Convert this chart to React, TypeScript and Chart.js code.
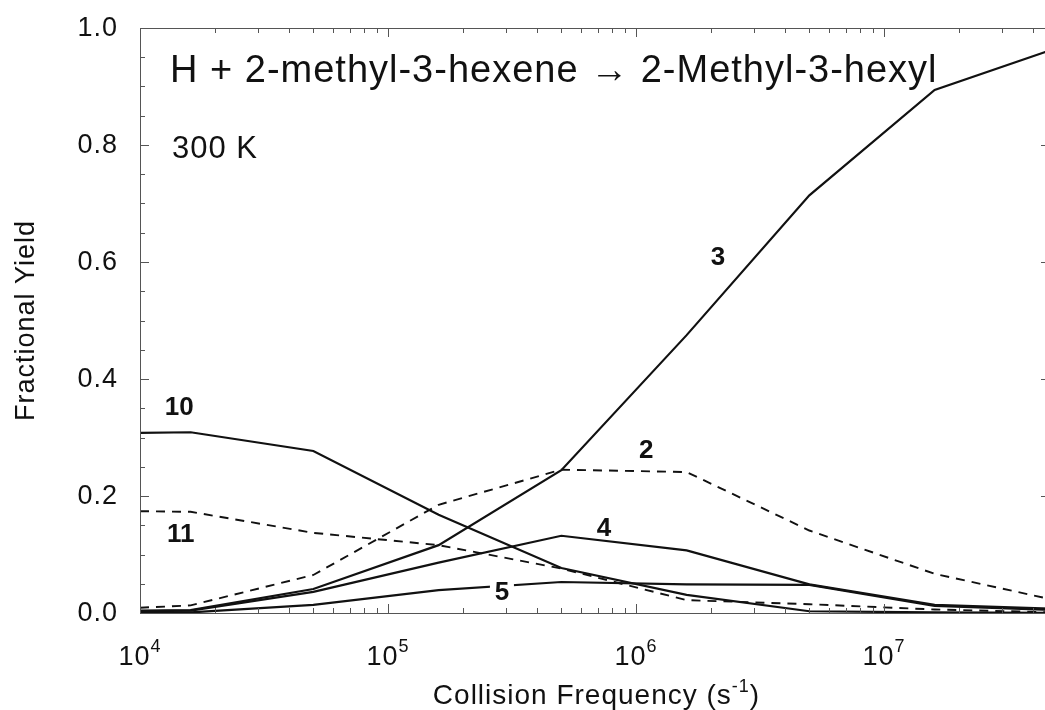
import React, { useEffect, useRef } from "react";
import { Chart, registerables } from "chart.js";

Chart.register(...registerables);

// Collision frequencies (s^-1) at which yields were computed
const FREQUENCIES = [1e4, 1.6e4, 5e4, 1.6e5, 5e5, 1.6e6, 5e6, 1.6e7, 5e7];

// Fractional yields per product channel
const YIELD_3 = [0.004, 0.005, 0.041, 0.116, 0.244, 0.475, 0.714, 0.894, 0.966];
const YIELD_10 = [0.308, 0.309, 0.277, 0.168, 0.077, 0.031, 0.003, 0.001, 0.0];
const YIELD_2 = [0.009, 0.013, 0.065, 0.185, 0.245, 0.241, 0.141, 0.067, 0.021];
const YIELD_11 = [0.174, 0.173, 0.137, 0.116, 0.076, 0.022, 0.015, 0.006, 0.001];
const YIELD_4 = [0.003, 0.004, 0.036, 0.086, 0.132, 0.107, 0.049, 0.014, 0.007];
const YIELD_5 = [0.001, 0.001, 0.014, 0.039, 0.053, 0.049, 0.048, 0.012, 0.005];

// Axis ranges and ticks
const X_MIN = 1e4;
const X_MAX = 4.67e7;
const Y_MIN = 0;
const Y_MAX = 1;
const Y_TICK_LABELS = ["0.0", "0.2", "0.4", "0.6", "0.8", "1.0"];
const X_DECADES = [4, 5, 6, 7];

// Text
const TITLE = "H + 2-methyl-3-hexene \u2192 2-Methyl-3-hexyl";
const SUBTITLE = "300 K";
const Y_TITLE = "Fractional Yield";
const X_TITLE = "Collision Frequency (s";
const X_TITLE_SUP = "-1";

// Curve labels placed at data coordinates
const CURVE_LABELS = [
  { text: "3", x: 2.14e6, y: 0.609, knockout: false },
  { text: "10", x: 1.44e4, y: 0.352, knockout: false },
  { text: "2", x: 1.1e6, y: 0.279, knockout: false },
  { text: "11", x: 1.46e4, y: 0.135, knockout: false },
  { text: "4", x: 7.43e5, y: 0.145, knockout: false },
  { text: "5", x: 2.88e5, y: 0.036, knockout: true },
];

const FONT = '"Liberation Sans", Arial, Helvetica, sans-serif';

function series(values: number[]) {
  return FREQUENCIES.map((f, i) => ({ x: f, y: values[i] }));
}

const decorPlugin = {
  id: "figureDecor",
  afterDatasetsDraw(chart: any) {
    const { ctx, chartArea: a, scales } = chart;
    const xs = scales.x;
    const ys = scales.y;
    ctx.save();

    // knockout boxes behind labels
    for (const l of CURVE_LABELS) {
      if (!l.knockout) continue;
      const px = xs.getPixelForValue(l.x);
      const py = ys.getPixelForValue(l.y);
      ctx.fillStyle = "#fff";
      ctx.fillRect(px - 12, py - 12, 24, 24);
    }

    // frame
    ctx.strokeStyle = "#555";
    ctx.lineWidth = 1;
    ctx.strokeRect(a.left + 0.5, a.top + 0.5, a.right - a.left, a.bottom - a.top);

    const line = (x1: number, y1: number, x2: number, y2: number) => {
      ctx.beginPath();
      ctx.moveTo(x1, y1);
      ctx.lineTo(x2, y2);
      ctx.stroke();
    };

    // y ticks (every 0.05, major each 0.2)
    for (let i = 0; i <= 20; i++) {
      const v = i * 0.05;
      const py = Math.round(ys.getPixelForValue(v)) + 0.5;
      const len = i % 4 === 0 ? 9 : 5;
      line(a.left, py, a.left + len, py);
      line(a.right, py, a.right - len, py);
    }

    // x ticks (log minor)
    for (const d of X_DECADES) {
      for (let m = 1; m <= 9; m++) {
        const v = m * Math.pow(10, d);
        if (v < X_MIN || v > X_MAX) continue;
        const px = Math.round(xs.getPixelForValue(v)) + 0.5;
        const len = m === 1 ? 9 : 5;
        line(px, a.bottom, px, a.bottom - len);
        line(px, a.top, px, a.top + len);
      }
    }

    ctx.fillStyle = "#111";

    // y tick labels
    ctx.font = `27px ${FONT}`;
    (ctx as any).letterSpacing = "1px";
    ctx.textAlign = "right";
    ctx.textBaseline = "middle";
    Y_TICK_LABELS.forEach((t) => {
      const py = ys.getPixelForValue(parseFloat(t));
      ctx.fillText(t, a.left - 22, py + 1);
    });

    // x tick labels 10^n
    ctx.textBaseline = "alphabetic";
    for (const d of X_DECADES) {
      const px = xs.getPixelForValue(Math.pow(10, d));
      ctx.font = `27px ${FONT}`;
      const wBase = ctx.measureText("10").width;
      ctx.font = `18px ${FONT}`;
      const wExp = ctx.measureText(String(d)).width;
      const start = px - (wBase + wExp) / 2;
      ctx.textAlign = "left";
      ctx.font = `27px ${FONT}`;
      ctx.fillText("10", start, a.bottom + 52);
      ctx.font = `18px ${FONT}`;
      ctx.fillText(String(d), start + wBase, a.bottom + 39);
    }

    // title and subtitle
    ctx.textAlign = "left";
    ctx.font = `38px ${FONT}`;
    (ctx as any).letterSpacing = "1px";
    ctx.fillText(TITLE, a.left + 30, a.top + 54);
    ctx.font = `31px ${FONT}`;
    ctx.fillText(SUBTITLE, a.left + 32, a.top + 130);

    // x title with superscript
    ctx.font = `28px ${FONT}`;
    const wMain = ctx.measureText(X_TITLE).width;
    ctx.font = `18px ${FONT}`;
    const wSup = ctx.measureText(X_TITLE_SUP).width;
    ctx.font = `28px ${FONT}`;
    const wClose = ctx.measureText(")").width;
    const total = wMain + wSup + wClose;
    const cx = (a.left + Math.min(a.right, 1045)) / 2 + 4;
    let sx = cx - total / 2;
    ctx.fillText(X_TITLE, sx, 704);
    ctx.font = `18px ${FONT}`;
    ctx.fillText(X_TITLE_SUP, sx + wMain, 692);
    ctx.font = `28px ${FONT}`;
    ctx.fillText(")", sx + wMain + wSup, 704);

    // y title rotated
    ctx.save();
    ctx.translate(34, (a.top + a.bottom) / 2);
    ctx.rotate(-Math.PI / 2);
    ctx.textAlign = "center";
    ctx.font = `27px ${FONT}`;
    ctx.fillText(Y_TITLE, 0, 0);
    ctx.restore();

    // curve labels
    (ctx as any).letterSpacing = "0px";
    ctx.font = `bold 26px ${FONT}`;
    ctx.textAlign = "center";
    ctx.textBaseline = "middle";
    for (const l of CURVE_LABELS) {
      const px = xs.getPixelForValue(l.x);
      const py = ys.getPixelForValue(l.y);
      ctx.fillText(l.text, px, py + 1);
    }

    ctx.restore();
  },
};

export default function App() {
  const ref = useRef<HTMLCanvasElement | null>(null);

  useEffect(() => {
    if (!ref.current) return;
    const solid = { borderColor: "#111", borderWidth: 2.2, pointRadius: 0, tension: 0, fill: false };
    const dashed = { ...solid, borderWidth: 1.9, borderDash: [9, 7] };
    const chart = new Chart(ref.current, {
      type: "line",
      data: {
        datasets: [
          { label: "3", data: series(YIELD_3), ...solid },
          { label: "10", data: series(YIELD_10), ...solid },
          { label: "2", data: series(YIELD_2), ...dashed },
          { label: "11", data: series(YIELD_11), ...dashed },
          { label: "4", data: series(YIELD_4), ...solid },
          { label: "5", data: series(YIELD_5), ...solid },
        ],
      },
      options: {
        responsive: false,
        animation: false,
        parsing: true,
        layout: { padding: { left: 140, top: 28, right: 2, bottom: 97 } },
        plugins: { legend: { display: false }, tooltip: { enabled: false } },
        scales: {
          x: { type: "logarithmic", min: X_MIN, max: X_MAX, display: false },
          y: { type: "linear", min: Y_MIN, max: Y_MAX, display: false },
        },
      },
      plugins: [decorPlugin],
    } as any);
    return () => chart.destroy();
  }, []);

  return (
    <div style={{ position: "absolute", left: 0, top: 0, width: 1045, height: 710, overflow: "hidden", background: "#fff" }}>
      <canvas ref={ref} width={1052} height={710} style={{ display: "block" }} />
    </div>
  );
}
